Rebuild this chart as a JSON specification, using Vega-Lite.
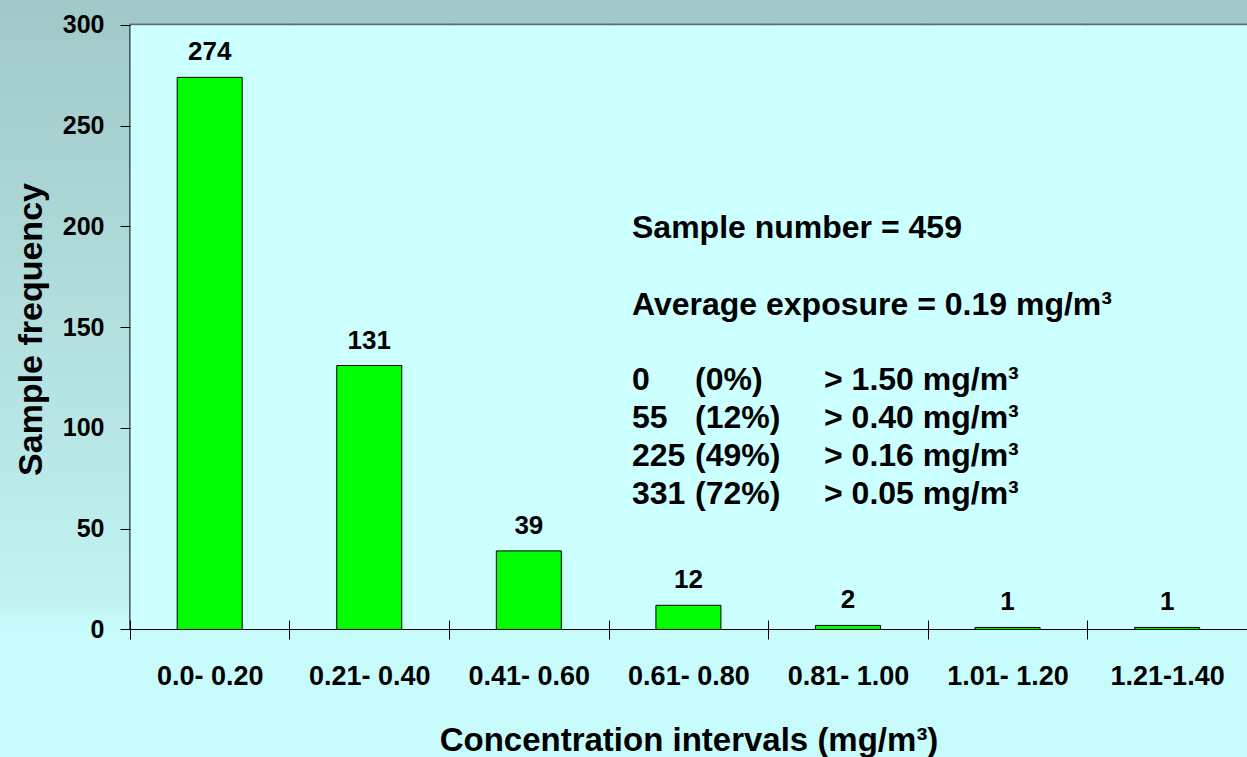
{
  "$schema": "https://vega.github.io/schema/vega-lite/v6.json",
  "width": 1247,
  "height": 757,
  "autosize": {"type": "none"},
  "padding": 0,
  "background": "#C8FCFC",
  "config": {
    "view": {
      "stroke": null,
      "fill": {
        "gradient": "linear",
        "x1": 0, "y1": 0, "x2": 0, "y2": 1,
        "stops": [
          {"offset": 0, "color": "#A0C8C8"},
          {"offset": 0.79, "color": "#C2F2F2"},
          {"offset": 0.83, "color": "#C8FCFC"},
          {"offset": 1, "color": "#C8FCFC"}
        ]
      }
    },
    "font": "Liberation Sans",
    "text": {"font": "Liberation Sans", "fontWeight": "bold", "color": "black"}
  },
  "data": {
    "values": [
      {"interval": "0.0- 0.20", "count": 274},
      {"interval": "0.21- 0.40", "count": 131},
      {"interval": "0.41- 0.60", "count": 39},
      {"interval": "0.61- 0.80", "count": 12},
      {"interval": "0.81- 1.00", "count": 2},
      {"interval": "1.01- 1.20", "count": 1},
      {"interval": "1.21-1.40", "count": 1}
    ]
  },
  "layer": [
    {
      "mark": {"type": "bar", "fill": "#CCFFFF", "stroke": null, "width": {"band": 2.47}},
      "encoding": {
        "x": {
          "field": "interval", "type": "nominal", "sort": null,
          "scale": {"domain": ["0.0- 0.20", "0.21- 0.40", "0.41- 0.60", "0.61- 0.80", "0.81- 1.00", "1.01- 1.20", "1.21-1.40"], "paddingInner": 0.5927, "paddingOuter": 0.7037, "align": 0.789},
          "axis": {
            "orient": "bottom",
            "zindex": 1,
            "offset": -137,
            "domain": false,
            "grid": false,
            "bandPosition": 0,
            "tickOffset": -47.3,
            "tickSize": 19,
            "tickColor": "black",
            "tickWidth": 1,
            "labelOffset": 47.3,
            "labelPadding": 45,
            "labelBaseline": "alphabetic",
            "labelAngle": 0,
            "labelFont": "Liberation Sans",
            "labelFontWeight": "bold",
            "labelFontSize": 27,
            "labelColor": "black",
            "labelOverlap": false,
            "title": "Concentration intervals (mg/m³)",
            "titleFont": "Liberation Sans",
            "titleFontWeight": "bold",
            "titleFontSize": 33,
            "titleColor": "black",
            "titleX": 688.5,
            "titleY": 130,
            "titleBaseline": "alphabetic"
          }
        },
        "y": {
          "datum": 300, "type": "quantitative",
          "scale": {"domain": [-63.3, 312.4], "nice": false, "zero": false},
          "axis": {
            "orient": "left",
            "zindex": 1,
            "offset": -130,
            "values": [0, 50, 100, 150, 200, 250, 300],
            "domain": false,
            "grid": false,
            "tickSize": 10,
            "tickColor": "black",
            "labelFont": "Liberation Sans",
            "labelFontWeight": "bold",
            "labelFontSize": 25,
            "labelColor": "black",
            "labelPadding": 16,
            "title": "Sample frequency",
            "titleFont": "Liberation Sans",
            "titleFontWeight": "bold",
            "titleFontSize": 34,
            "titleColor": "black",
            "titleAngle": -90,
            "titleX": -89,
            "titleY": 329,
            "titleBaseline": "alphabetic"
          }
        },
        "y2": {"datum": 0}
      }
    },
    {
      "mark": {"type": "bar", "fill": "#587272", "stroke": null, "width": {"band": 2.47}},
      "encoding": {
        "x": {"field": "interval", "type": "nominal", "sort": null},
        "y": {"datum": 300.7, "type": "quantitative"},
        "y2": {"datum": 299.9}
      }
    },
    {
      "mark": {"type": "bar", "fill": "black", "stroke": null, "width": {"band": 2.47}},
      "encoding": {
        "x": {"field": "interval", "type": "nominal", "sort": null},
        "y": {"datum": 0.25, "type": "quantitative"},
        "y2": {"datum": -0.25}
      }
    },
    {
      "transform": [{"filter": "datum.interval == '0.0- 0.20'"}],
      "mark": {"type": "rule", "color": "black", "strokeWidth": 1, "xOffset": -47.3},
      "encoding": {
        "x": {"field": "interval", "type": "nominal", "sort": null, "bandPosition": 0},
        "y": {"datum": 300, "type": "quantitative"},
        "y2": {"datum": 0}
      }
    },
    {
      "mark": {"type": "bar", "fill": "#00FF00", "stroke": "black", "strokeWidth": 1},
      "encoding": {
        "x": {"field": "interval", "type": "nominal", "sort": null},
        "y": {"field": "count", "type": "quantitative"},
        "y2": {"datum": 0}
      }
    },
    {
      "mark": {"type": "text", "font": "Liberation Sans", "fontWeight": "bold", "fontSize": 26, "align": "center", "baseline": "alphabetic", "dy": -17, "color": "black"},
      "encoding": {
        "x": {"field": "interval", "type": "nominal", "sort": null},
        "y": {"field": "count", "type": "quantitative"},
        "text": {"field": "count", "type": "quantitative"}
      }
    },
    {
      "data": {"values": [{"note": "Sample number = 459"}]},
      "mark": {"type": "text", "font": "Liberation Sans", "fontWeight": "bold", "fontSize": 32, "align": "left", "baseline": "alphabetic", "xOffset": -56.4, "color": "black"},
      "encoding": {
        "x": {"datum": "0.61- 0.80", "type": "nominal"},
        "y": {"datum": 194.3, "type": "quantitative"},
        "text": {"field": "note", "type": "nominal"}
      }
    },
    {
      "data": {"values": [{"note": "Average exposure = 0.19 mg/m³"}]},
      "mark": {"type": "text", "font": "Liberation Sans", "fontWeight": "bold", "fontSize": 32, "align": "left", "baseline": "alphabetic", "xOffset": -56.4, "color": "black"},
      "encoding": {
        "x": {"datum": "0.61- 0.80", "type": "nominal"},
        "y": {"datum": 156.1, "type": "quantitative"},
        "text": {"field": "note", "type": "nominal"}
      }
    },
    {
      "data": {"values": [{"note": "0|55|225|331"}]},
      "mark": {"type": "text", "font": "Liberation Sans", "fontWeight": "bold", "fontSize": 32, "align": "left", "baseline": "alphabetic", "lineBreak": "|", "lineHeight": 38.2, "xOffset": -56.4, "color": "black"},
      "encoding": {
        "x": {"datum": "0.61- 0.80", "type": "nominal"},
        "y": {"datum": 118.9, "type": "quantitative"},
        "text": {"field": "note", "type": "nominal"}
      }
    },
    {
      "data": {"values": [{"note": "(0%)|(12%)|(49%)|(72%)"}]},
      "mark": {"type": "text", "font": "Liberation Sans", "fontWeight": "bold", "fontSize": 32, "align": "left", "baseline": "alphabetic", "lineBreak": "|", "lineHeight": 38.2, "xOffset": 6.6, "color": "black"},
      "encoding": {
        "x": {"datum": "0.61- 0.80", "type": "nominal"},
        "y": {"datum": 118.9, "type": "quantitative"},
        "text": {"field": "note", "type": "nominal"}
      }
    },
    {
      "data": {"values": [{"note": "> 1.50 mg/m³|> 0.40 mg/m³|> 0.16 mg/m³|> 0.05 mg/m³"}]},
      "mark": {"type": "text", "font": "Liberation Sans", "fontWeight": "bold", "fontSize": 32, "align": "left", "baseline": "alphabetic", "lineBreak": "|", "lineHeight": 38.2, "xOffset": 135.6, "color": "black"},
      "encoding": {
        "x": {"datum": "0.61- 0.80", "type": "nominal"},
        "y": {"datum": 118.9, "type": "quantitative"},
        "text": {"field": "note", "type": "nominal"}
      }
    }
  ]
}
